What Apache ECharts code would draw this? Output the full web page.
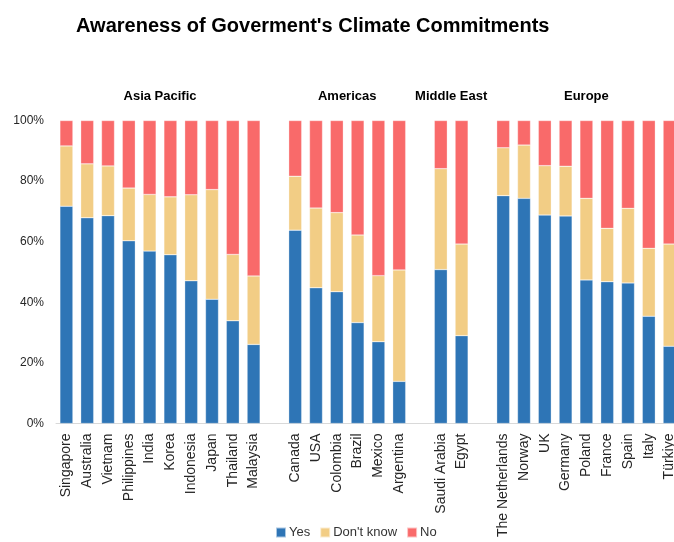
<!DOCTYPE html>
<html>
<head>
<meta charset="utf-8">
<script src="https://cdn.jsdelivr.net/npm/echarts@6/dist/echarts.min.js"></script>
<style>html,body{margin:0;padding:0;background:#fff;}#c{width:674px;height:542px;}</style>
</head>
<body>
<div id="c"></div>
<script>
var groups = ['Asia Pacific', 'Americas', 'Middle East', 'Europe'];
var groupCountries = [
  ['Singapore','Australia','Vietnam','Philippines','India','Korea','Indonesia','Japan','Thailand','Malaysia'],
  ['Canada','USA','Colombia','Brazil','Mexico','Argentina'],
  ['Saudi Arabia','Egypt'],
  ['The Netherlands','Norway','UK','Germany','Poland','France','Spain','Italy','Türkiye']
];
var yesVals = [
  [71.7, 67.9, 68.6, 60.3, 56.9, 55.7, 47.1, 41.0, 33.9, 26.1],
  [63.8, 44.8, 43.5, 33.3, 27.0, 13.9],
  [50.8, 29.0],
  [75.2, 74.3, 68.8, 68.5, 47.4, 46.8, 46.4, 35.4, 25.5]
];
var dontKnowVals = [
  [19.9, 17.8, 16.4, 17.4, 18.7, 19.1, 28.4, 36.2, 21.9, 22.6],
  [17.8, 26.3, 26.1, 28.9, 21.8, 36.8],
  [33.3, 30.2],
  [15.8, 17.6, 16.3, 16.4, 26.9, 17.6, 24.6, 22.4, 33.7]
];
var noVals = [
  [8.4, 14.3, 15.0, 22.3, 24.4, 25.2, 24.5, 22.8, 44.2, 51.3],
  [18.4, 28.9, 30.4, 37.8, 51.2, 49.3],
  [15.9, 40.8],
  [9.0, 8.1, 14.9, 15.1, 25.7, 35.6, 29.0, 42.2, 40.8]
];
var yTicks = ['0%','20%','40%','60%','80%','100%'];

// Build flat arrays with an empty slot between groups
var cats = [], yes = [], dk = [], no = [], groupRanges = [];
groupCountries.forEach(function (list, g) {
  if (g > 0) { cats.push(''); yes.push('-'); dk.push('-'); no.push('-'); }
  var start = cats.length;
  list.forEach(function (c, i) {
    cats.push(c); yes.push(yesVals[g][i]); dk.push(dontKnowVals[g][i]); no.push(noVals[g][i]);
  });
  groupRanges.push([start, cats.length - 1]);
});

var chart = echarts.init(document.getElementById('c'));
var font = "'Liberation Sans', Arial, sans-serif";
var itemStyleBase = { borderColor: 'rgba(255,255,255,0.6)', borderWidth: 0.5 };
var option = {
  animation: false,
  backgroundColor: '#fff',
  title: {
    text: "Awareness of Goverment's Climate Commitments",
    left: 71, top: 11,
    textStyle: { fontFamily: font, fontWeight: 'bold', fontSize: 20, color: '#000' }
  },
  legend: {
    bottom: -2, left: 270,
    itemWidth: 10, itemHeight: 10, itemGap: 9,
    icon: 'rect',
    textStyle: { fontFamily: font, fontSize: 13, color: '#333', padding: [0, 0, 0, -2] },
    data: ['Yes', "Don't know", 'No']
  },
  grid: { left: 56, width: 624, top: 120.5, bottom: 118.5, containLabel: false, outerBoundsMode: 'none' },
  xAxis: {
    type: 'category',
    data: cats,
    axisLine: { lineStyle: { color: '#d9d9d9', width: 1 } },
    axisTick: { show: false },
    axisLabel: {
      rotate: 90, interval: 0, margin: 10,
      fontFamily: font, fontSize: 14, color: '#262626'
    }
  },
  yAxis: {
    type: 'value', min: 0, max: 100, interval: 20,
    axisLine: { show: false },
    axisTick: { show: false },
    splitLine: { show: false },
    axisLabel: {
      fontFamily: font, fontSize: 12, color: '#262626', margin: 12,
      formatter: function (v) { return yTicks[Math.round(v / 20)]; }
    }
  },
  series: [
    { name: 'Yes', type: 'bar', stack: 's', data: yes, barWidth: 13,
      itemStyle: Object.assign({ color: '#2e75b6' }, itemStyleBase) },
    { name: "Don't know", type: 'bar', stack: 's', data: dk, barWidth: 13,
      itemStyle: Object.assign({ color: '#f2cd85' }, itemStyleBase) },
    { name: 'No', type: 'bar', stack: 's', data: no, barWidth: 13,
      itemStyle: Object.assign({ color: '#f96a6a' }, itemStyleBase) }
  ]
};
chart.setOption(option);

// Group headers centered over each group's bars
var gfx = groupRanges.map(function (r, g) {
  var x0 = chart.convertToPixel({ xAxisIndex: 0 }, r[0]);
  var x1 = chart.convertToPixel({ xAxisIndex: 0 }, r[1]);
  return {
    type: 'text',
    x: (x0 + x1) / 2, y: 96,
    style: {
      text: groups[g], fontFamily: font, fontWeight: 'bold', fontSize: 13,
      fill: '#000', align: 'center', verticalAlign: 'middle'
    }
  };
});
chart.setOption({ graphic: gfx });
</script>
</body>
</html>
